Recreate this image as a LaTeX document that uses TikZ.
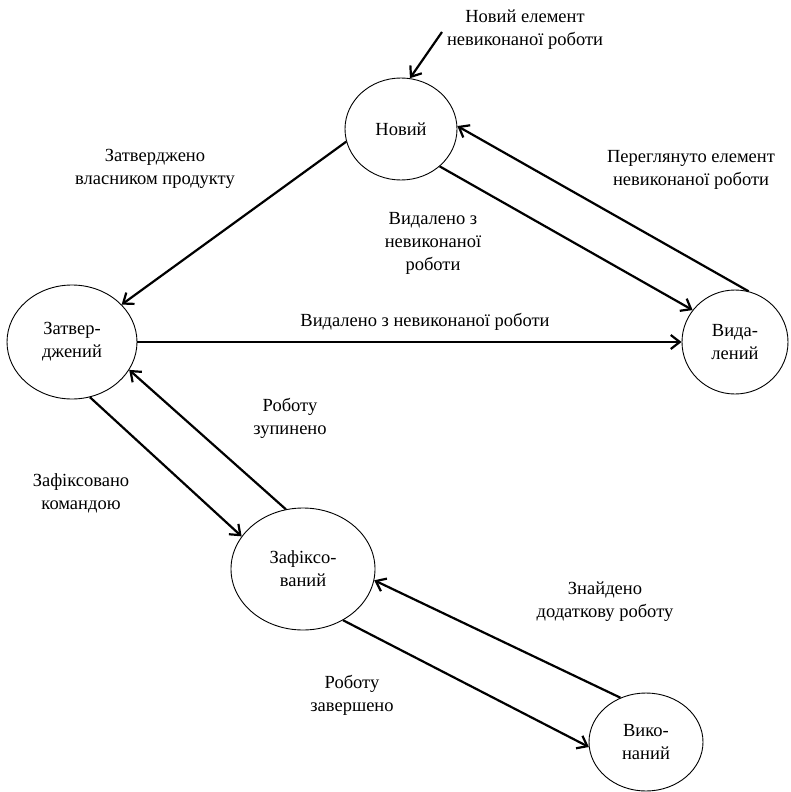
\documentclass[tikz,border=0pt]{standalone}
\usepackage{fontspec}
\setmainfont{Liberation Serif}
\usetikzlibrary{shapes.geometric,arrows.meta}
\begin{document}
\begin{tikzpicture}[x=1pt,y=-1pt,
  state/.style={draw, ellipse, line width=0.9pt, inner sep=0pt, align=center,
    font=\fontsize{18.5}{23}\selectfont},
  lbl/.style={align=center, inner sep=0pt, font=\fontsize{18.5}{23}\selectfont},
  flow/.style={line width=2.2pt, -{Straight Barb[length=9pt,width=14pt,line width=2.2pt]}}]
\useasboundingbox (0,0) rectangle (791,792);

% states
\node[state, minimum width=112pt, minimum height=102pt] (new) at (401,129) {Новий};
\node[state, minimum width=130pt, minimum height=114pt] (appr) at (72,342) {Затвер-\\джений};
\node[state, minimum width=106pt, minimum height=104pt] (del) at (735,342) {Вида-\\лений};
\node[state, minimum width=144pt, minimum height=122pt] (fix) at (303,569) {Зафіксо-\\ваний};
\node[state, minimum width=114pt, minimum height=98pt] (done) at (646,742) {Вико-\\наний};

% labels
\node[lbl] (lnew) at (525,30) {Новий елемент\\невиконаної роботи};
\node[lbl] (lappr) at (155,169) {Затверджено\\власником продукту};
\node[lbl] (ldel1) at (433,243) {Видалено з\\невиконаної\\роботи};
\node[lbl] (lrev) at (691,170) {Переглянуто елемент\\невиконаної роботи};
\node[lbl] (ldel2) at (425,322) {Видалено з невиконаної роботи};
\node[lbl] (lstop) at (290,418) {Роботу\\зупинено};
\node[lbl] (lfix) at (81,493) {Зафіксовано\\командою};
\node[lbl] (lmore) at (605,602) {Знайдено\\додаткову роботу};
\node[lbl] (lfin) at (352,695) {Роботу\\завершено};

% transitions
\coordinate (start) at (442,32);
\draw[flow] (start) -- (new.80);
\draw[flow] (new.193) -- (appr.37);
\draw[flow] (new.316) -- (del.143);
\draw[flow] (del.75) -- (new.3);
\draw[flow] (appr.east) -- (del.west);
\draw[flow] (fix.106) -- (appr.334);
\draw[flow] (appr.288) -- (fix.152);
\draw[flow] (done.120) -- (fix.351);
\draw[flow] (fix.308) -- (done.185);
\end{tikzpicture}
\end{document}
